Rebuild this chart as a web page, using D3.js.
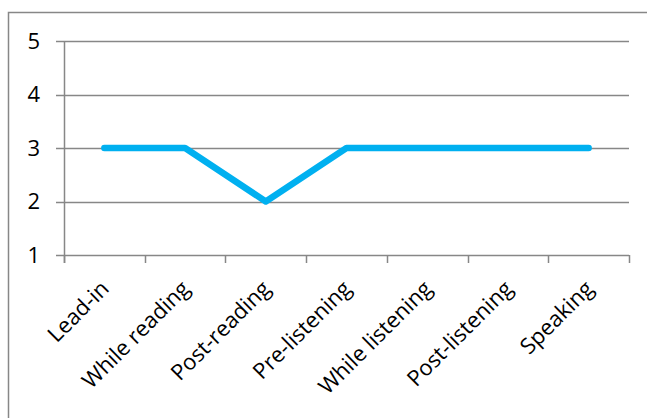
<!DOCTYPE html>
<html><head><meta charset="utf-8">
<script src="https://cdn.jsdelivr.net/npm/d3@7"></script>
<style>html,body{margin:0;padding:0;background:#fff;}svg{display:block;}</style>
</head><body>
<script>
const categories = ["Lead-in","While reading","Post-reading","Pre-listening","While listening","Post-listening","Speaking"];
const values = [3,3,2,3,3,3,3];
const yTicks = [1,2,3,4,5];

const W = 647, H = 418;
const mLeft = 64, mRight = 629, mTop = 41, mBottom = 255;
const svg = d3.select("body").append("svg").attr("width",W).attr("height",H);
const font = "'Open Sans', sans-serif";
const grey = "#878787";

svg.append("rect").attr("x",8.5).attr("y",12.5).attr("width",700).attr("height",600)
  .attr("fill","none").attr("stroke",grey).attr("stroke-width",1.5);

const x = d3.scaleBand().domain(categories).range([mLeft,mRight]);
const y = d3.scaleLinear().domain([1,5]).range([mBottom,mTop]);

svg.append("g").selectAll("line").data(yTicks).join("line")
  .attr("x1",mLeft-8).attr("x2",mRight)
  .attr("y1",d=>Math.round(y(d))+0.5).attr("y2",d=>Math.round(y(d))+0.5)
  .attr("stroke",grey).attr("stroke-width",1.5);
svg.append("g").selectAll("text").data(yTicks).join("text")
  .attr("x",40).attr("y",d=>y(d)).attr("dy","0.35em")
  .attr("text-anchor","end").attr("font-family",font).attr("font-size",22).attr("fill","#000")
  .text(d=>d);

svg.append("line").attr("x1",mLeft+0.5).attr("x2",mLeft+0.5).attr("y1",mTop).attr("y2",mBottom+8)
  .attr("stroke",grey).attr("stroke-width",1.5);
const tickXs = categories.map(c=>x(c)).concat([x(categories[categories.length-1])+x.bandwidth()]);
svg.append("g").selectAll("line").data(tickXs).join("line")
  .attr("x1",d=>Math.round(d)+0.5).attr("x2",d=>Math.round(d)+0.5)
  .attr("y1",mBottom).attr("y2",mBottom+8)
  .attr("stroke",grey).attr("stroke-width",1.5);

svg.append("g").selectAll("text").data(categories).join("text")
  .attr("transform",d=>`translate(${x(d)+x.bandwidth()/2+6},290) rotate(-45)`)
  .attr("text-anchor","end").attr("font-family",font).attr("font-size",22).attr("fill","#000")
  .text(d=>d);

const line = d3.line().x((d,i)=>x(categories[i])+x.bandwidth()/2).y(d=>y(d));
svg.append("path").datum(values).attr("d",line)
  .attr("fill","none").attr("stroke","#00B0F0").attr("stroke-width",6.5)
  .attr("stroke-linecap","round").attr("stroke-linejoin","round");
</script>
</body></html>
